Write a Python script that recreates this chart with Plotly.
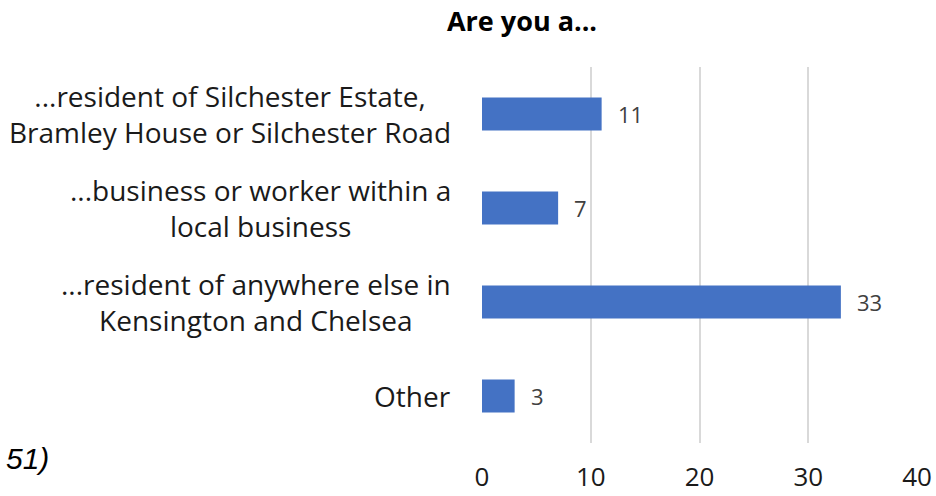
import plotly.graph_objects as go

# Survey question: "Are you a..."
categories = [
    "...resident of Silchester Estate,<br>Bramley House or Silchester Road",
    "...business or worker within a<br>local business",
    "...resident of anywhere else in<br>Kensington and Chelsea",
    "Other",
]
counts = [11, 7, 33, 3]
x_ticks = [0, 10, 20, 30, 40]
title_text = "Are you a..."
footnote_text = "51)"

BAR_COLOR = "#4472C4"
FONT = "Open Sans"

fig = go.Figure()
fig.add_trace(
    go.Bar(
        y=categories,
        x=counts,
        orientation="h",
        marker=dict(color=BAR_COLOR, line=dict(width=0)),
        hoverinfo="x+y",
    )
)

# value labels to the right of each bar
for cat, val in zip(categories, counts):
    fig.add_annotation(
        x=val, y=cat, xref="x", yref="y",
        text=str(val), showarrow=False,
        xanchor="left", yanchor="middle", xshift=14,
        font=dict(family=FONT, size=22, color="#404040"),
    )

# category labels, centred line by line, right edge near the axis
for cat in categories:
    fig.add_annotation(
        x=0, y=cat, xref="paper", yref="y",
        text=cat, showarrow=False,
        xanchor="right", yanchor="middle", align="center", xshift=-29,
        font=dict(family=FONT, size=28, color="#1a1a1a"),
    )

# footnote fragment at the bottom left
fig.add_annotation(
    x=0, y=-0.04, xref="paper", yref="paper",
    text="<i>" + footnote_text + "</i>", showarrow=False,
    xanchor="right", yanchor="middle", xshift=-432, borderpad=0,
    font=dict(family="Liberation Sans", size=30, color="#000000"),
)

fig.update_layout(
    width=936, height=496,
    margin=dict(l=482, r=19, t=67, b=53, autoexpand=False),
    paper_bgcolor="white", plot_bgcolor="white",
    showlegend=False,
    bargap=0.65,
    title=dict(
        text="<b>" + title_text + "</b>",
        x=0.092, xref="paper", xanchor="center",
        y=1 - 22 / 496, yref="container", yanchor="middle",
        font=dict(family=FONT, size=27, color="#000000"),
    ),
    xaxis=dict(
        range=[0, 40],
        tickvals=x_ticks,
        showgrid=True, gridcolor="#d9d9d9", gridwidth=2,
        zeroline=False, showline=False,
        ticks="", ticklabelstandoff=16,
        automargin=False,
        tickfont=dict(family=FONT, size=26, color="#1a1a1a"),
        fixedrange=True,
    ),
    yaxis=dict(
        autorange="reversed",
        showticklabels=False, showgrid=False, zeroline=False, showline=False,
        ticks="", automargin=False,
        fixedrange=True,
    ),
)

fig.write_html("out.html")
